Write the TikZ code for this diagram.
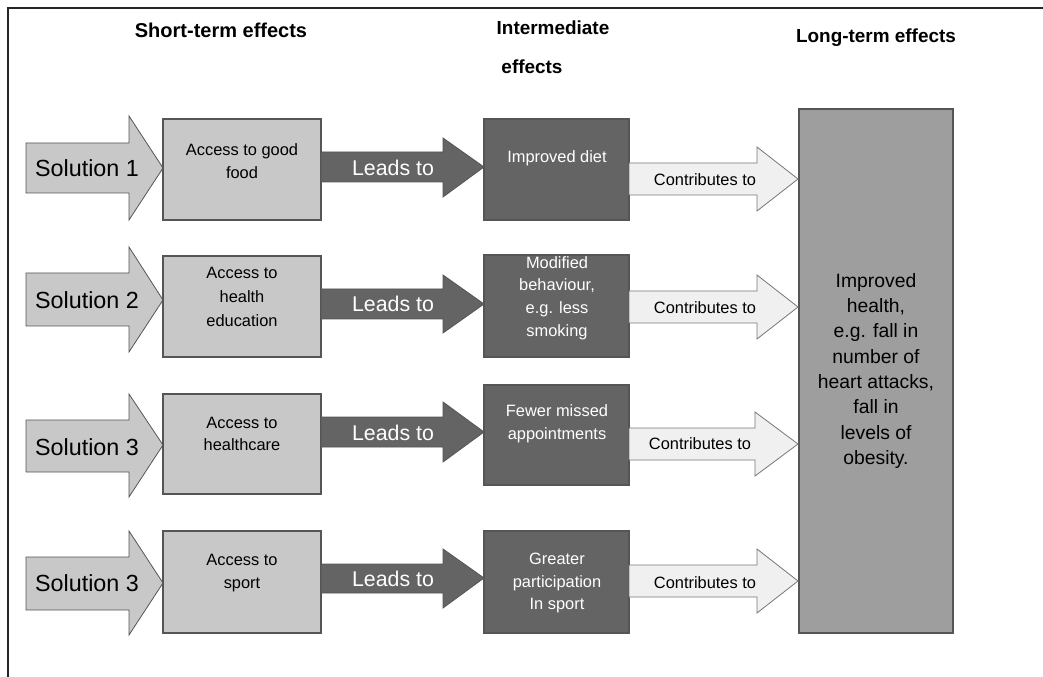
\documentclass[tikz,border=0pt]{standalone}
\usepackage{fontspec}
\setmainfont{Liberation Sans}
\usetikzlibrary{fit}
\definecolor{lightg}{HTML}{C8C8C8}
\definecolor{darkg}{HTML}{646464}
\definecolor{bigg}{HTML}{9E9E9E}
\definecolor{paleg}{HTML}{F0F0F0}
\definecolor{edgeg}{HTML}{555555}
\newcommand{\blockarr}[9]{% style, xs, xh, xt, shaft top, shaft bottom, head top, head bottom, tip y
  \draw[#1] (#2,#5) -- (#3,#5) -- (#3,#7) -- (#4,#9) -- (#3,#8) -- (#3,#6) -- (#2,#6) -- cycle;}
\begin{document}
\begin{tikzpicture}[x=0.75pt,y=-0.75pt,
  frame/.style={draw=black!85,line width=1.1pt},
  boxbase/.style={draw=edgeg,line width=0.8pt,inner sep=0pt},
  lightbox/.style={boxbase,fill=lightg},
  darkbox/.style={boxbase,fill=darkg},
  bigbox/.style={boxbase,fill=bigg},
  solarr/.style={draw=edgeg,line width=0.6pt,fill=lightg},
  leadarr/.style={draw=edgeg,line width=0.6pt,fill=darkg},
  contarr/.style={draw=edgeg!80,line width=0.6pt,fill=paleg},
  hdr/.style={inner sep=0pt,font=\bfseries\fontsize{14.2}{17}\selectfont},
  soltxt/.style={inner sep=0pt,font=\fontsize{17.5}{20}\selectfont},
  leadtxt/.style={inner sep=0pt,text=white,font=\fontsize{16}{19}\selectfont},
  boxtxt/.style={inner sep=0pt,align=center,font=\fontsize{12.3}{17}\selectfont},
  darktxt/.style={boxtxt,text=white},
  conttxt/.style={inner sep=0pt,font=\fontsize{12.3}{15}\selectfont},
  bigtxt/.style={inner sep=0pt,align=center,font=\fontsize{14.5}{19}\selectfont}]
\useasboundingbox (0,0) rectangle (1043,677);
\fill[white] (0,0) rectangle (1043,677);
% frame
\draw[frame] (8,677) -- (8,8) -- (1043,8);
% headers
\node[hdr,font=\bfseries\fontsize{15}{17}\selectfont] (h1) at (221,30) {Short-term effects};
\node[hdr] (h2) at (553,28) {Intermediate};
\node[hdr] (h2b) at (532,67) {effects};
\node[hdr] (h3) at (876,38) {Long-term effects};
% big box
\node[bigbox,fit={(799,109) (953,633)}] (big) {};
\node[bigtxt] (bigt) at (876,371) {Improved\\health,\\e.g. fall in\\number of\\heart attacks,\\fall in\\levels of\\obesity.};
% ---- row 1
\blockarr{solarr}{26}{129}{163}{143}{193}{116}{220}{168}
\node[lightbox,fit={(163,119) (321,220)}] (s1) {};
\blockarr{leadarr}{321}{443}{484}{152}{182}{138}{197}{167}
\node[darkbox,fit={(484,119) (629,220)}] (d1) {};
\blockarr{contarr}{629}{757}{798}{163}{195}{147}{211}{179}
\node[soltxt] (sol1) at (87,168) {Solution 1};
\node[boxtxt] (st1) at (242,161) {Access to good\\food};
\node[leadtxt] (l1) at (393,168) {Leads to};
\node[darktxt] (dt1) at (557,158) {Improved diet};
\node[conttxt] (c1) at (705,180) {Contributes to};
% ---- row 2
\blockarr{solarr}{26}{129}{163}{273}{326}{247}{352}{300}
\node[lightbox,fit={(163,256) (321,357)}] (s2) {};
\blockarr{leadarr}{321}{443}{484}{289}{319}{275}{333}{304}
\node[darkbox,fit={(484,255) (629,357)}] (d2) {};
\blockarr{contarr}{629}{757}{798}{291}{323}{275}{339}{307}
\node[soltxt] (sol2) at (87,300) {Solution 2};
\node[boxtxt,font=\fontsize{12.3}{18}\selectfont] (st2) at (242,297) {Access to\\health\\education};
\node[leadtxt] (l2) at (393,304) {Leads to};
\node[darktxt] (dt2) at (557,298) {Modified\\behaviour,\\e.g. less\\smoking};
\node[conttxt] (c2) at (705,308) {Contributes to};
% ---- row 3
\blockarr{solarr}{26}{129}{163}{420}{472}{394}{497}{445}
\node[lightbox,fit={(163,394) (321,494)}] (s3) {};
\blockarr{leadarr}{321}{443}{484}{417}{447}{402}{462}{432}
\node[darkbox,fit={(484,385) (629,485)}] (d3) {};
\blockarr{contarr}{629}{755}{798}{428}{460}{412}{476}{444}
\node[soltxt] (sol3) at (87,447) {Solution 3};
\node[boxtxt] (st3) at (242,434) {Access to\\healthcare};
\node[leadtxt] (l3) at (393,433) {Leads to};
\node[darktxt] (dt3) at (557,424) {Fewer missed\\appointments};
\node[conttxt] (c3) at (700,444) {Contributes to};
% ---- row 4
\blockarr{solarr}{26}{129}{163}{557}{610}{531}{635}{583}
\node[lightbox,fit={(163,531) (321,633)}] (s4) {};
\blockarr{leadarr}{321}{443}{484}{564}{593}{549}{608}{578}
\node[darkbox,fit={(484,531) (629,633)}] (d4) {};
\blockarr{contarr}{629}{757}{798}{565}{597}{549}{613}{581}
\node[soltxt] (sol4) at (87,583) {Solution 3};
\node[boxtxt] (st4) at (242,573) {Access to\\sport};
\node[leadtxt] (l4) at (393,579) {Leads to};
\node[darktxt] (dt4) at (557,583) {Greater\\participation\\In sport};
\node[conttxt] (c4) at (705,583) {Contributes to};
\end{tikzpicture}
\end{document}
